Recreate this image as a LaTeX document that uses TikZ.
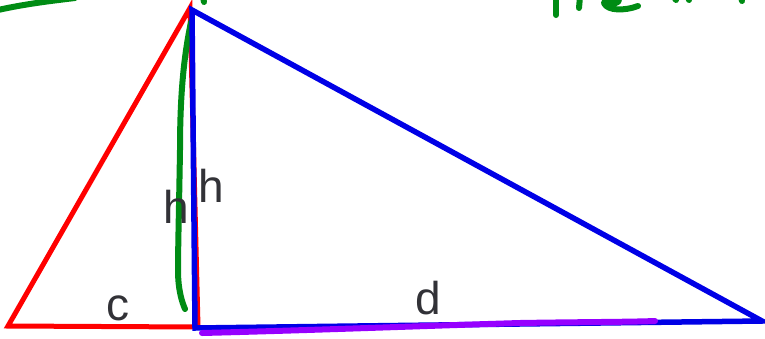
\documentclass[tikz,border=0pt]{standalone}
\usepackage{fontspec}
\setmainfont{Liberation Sans}
\definecolor{myred}{RGB}{255,0,0}
\definecolor{myblue}{RGB}{0,0,230}
\definecolor{mygreen}{RGB}{0,140,20}
\definecolor{mypurple}{RGB}{150,0,255}
\definecolor{txtgray}{RGB}{50,50,55}
\tikzset{
  redline/.style={draw=myred,line width=5pt,line join=miter},
  blueline/.style={draw=myblue,line width=5.5pt,line join=miter},
  greenink/.style={draw=mygreen,line width=6pt,line cap=round,line join=round},
  purpleink/.style={draw=mypurple,line width=6pt,line cap=round},
  lbl/.style={inner sep=0pt,text=txtgray,font=\fontsize{46}{46}\selectfont}
}
\begin{document}
\begin{tikzpicture}[x=1pt,y=-1pt]
\useasboundingbox (0,0) rectangle (765,338);
% points
\coordinate (rl) at (8,326);
\coordinate (rt) at (190,8);
\coordinate (rb) at (198,327);
\coordinate (bt) at (192,10);
\coordinate (bb) at (195,328);
\coordinate (br) at (762,321);
% red triangle
\draw[redline] (rl) -- (rt) -- (rb) -- cycle;
% green curve (height)
\draw[greenink] (191,22) .. controls (183,60) and (180,100) .. (180,150)
  .. controls (179,210) and (178,250) .. (178,270)
  .. controls (178,290) and (182,302) .. (185,309);
% blue triangle
\draw[blueline] (bt) -- (bb) -- (br) -- cycle;
% purple stroke on d
\draw[purpleink] (202,333) .. controls (320,330) and (420,326) .. (520,323)
  .. controls (580,322) and (630,322) .. (655,321);
% green top strokes
\draw[greenink] (-2,10) .. controls (25,4) and (50,1) .. (75,-2);
\draw[greenink] (203,-3) -- (204,2);
\draw[greenink] (556,-3) -- (556,15);
\draw[greenink] (580,-3) -- (579,8);
\draw[greenink] (604,3) .. controls (612,5) and (621,3) .. (619,-2)
  .. controls (614,-4) and (604,-2) .. (604,3)
  .. controls (607,11) and (625,11) .. (638,6);
\draw[greenink] (674,-3) -- (676,0);
\draw[greenink] (688,-3) -- (689,0);
\draw[greenink] (741,-3) -- (742,1);
% labels
\node[lbl] (h1) at (176,207) {h};
\node[lbl] (h2) at (211,186) {h};
\node[lbl] (c) at (118,308) {c};
\node[lbl] (d) at (428,298) {d};
\end{tikzpicture}
\end{document}
